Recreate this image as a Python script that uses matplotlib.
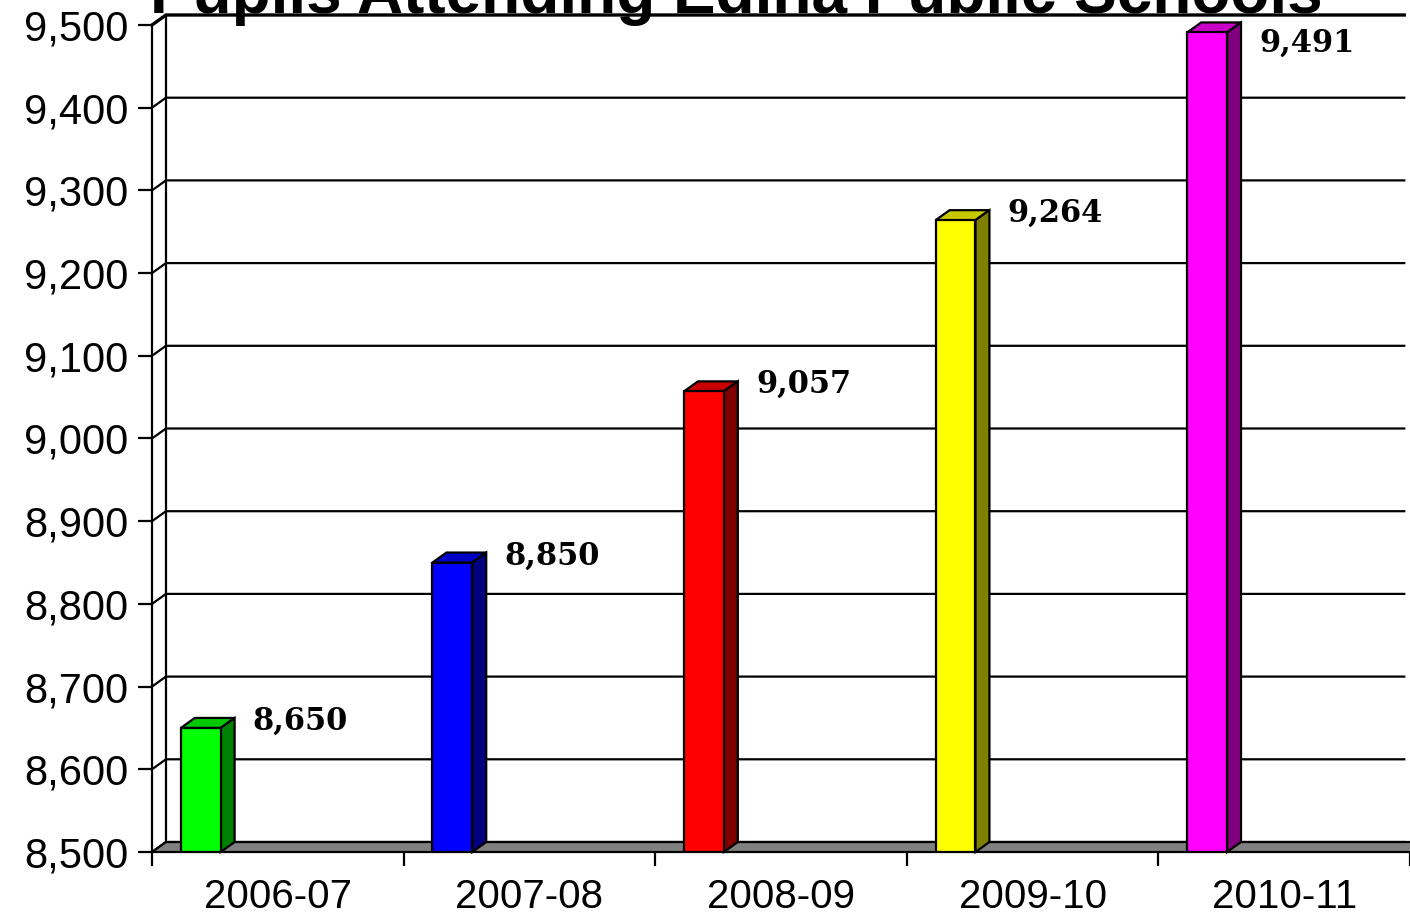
import matplotlib.pyplot as plt
from matplotlib.patches import Polygon, Rectangle

# data
years = ["2006-07", "2007-08", "2008-09", "2009-10", "2010-11"]
pupils = [8650, 8850, 9057, 9264, 9491]
front_colors = ["#00FF00", "#0000FF", "#FF0000", "#FFFF00", "#FF00FF"]
top_colors = ["#00C800", "#0000C8", "#C80000", "#C8C800", "#C800C8"]
side_colors = ["#008000", "#000080", "#800000", "#808000", "#800080"]
yticks = list(range(8500, 9501, 100))

W, H = 1410, 916
fig = plt.figure(figsize=(W / 100, H / 100), dpi=100)
fig.patch.set_facecolor("white")

# axes placed in pixels, runs off the right edge like the original
x0_px, y0_px, ytop_px = 152, 852, 25
cat_px = 252.75
ax = fig.add_axes([x0_px / W, (H - y0_px) / H, (W - x0_px) / W, (y0_px - ytop_px) / H])
xmax = -0.5 + (W - x0_px) / cat_px
ax.set_xlim(-0.5, xmax)
ax.set_ylim(8500, 9500)
ax.patch.set_visible(False)

# 3d depth offsets in data units
px_y = (y0_px - ytop_px) / 1000.0
dx = 14 / cat_px
dy = 10 / px_y

lw = 1.6
for s in ["top", "right", "bottom"]:
    ax.spines[s].set_visible(False)
ax.spines["left"].set_linewidth(lw)

# back wall gridlines with the little diagonals to the front axis
for v in yticks:
    ax.plot([-0.5, -0.5 + dx, xmax], [v, v + dy, v + dy], color="black",
            lw=lw if v < 9500 else 2.4, clip_on=False, zorder=1)
ax.plot([-0.5 + dx, -0.5 + dx], [8500 + dy, 9500 + dy], color="black", lw=lw,
        clip_on=False, zorder=1)

# floor
floor = Polygon([(-0.5, 8500), (xmax + 0.1, 8500), (xmax + 0.1, 8500 + dy),
                 (-0.5 + dx, 8500 + dy)], closed=True, facecolor="#808080",
                edgecolor="black", lw=lw, clip_on=False, zorder=2)
ax.add_patch(floor)

# bars
bw = 40 / cat_px
for i, v in enumerate(pupils):
    xl = i - 0.5 + 29 / cat_px
    xr = xl + bw
    ax.add_patch(Rectangle((xl, 8500), bw, v - 8500, facecolor=front_colors[i],
                           edgecolor="black", lw=lw, zorder=4))
    ax.add_patch(Polygon([(xl, v), (xr, v), (xr + dx, v + dy), (xl + dx, v + dy)],
                         closed=True, facecolor=top_colors[i], edgecolor="black",
                         lw=lw, zorder=3, clip_on=False))
    ax.add_patch(Polygon([(xr, 8500), (xr, v), (xr + dx, v + dy), (xr + dx, 8500 + dy)],
                         closed=True, facecolor=side_colors[i], edgecolor="black",
                         lw=lw, zorder=3, clip_on=False))
    ax.text(xr + 80 / cat_px, min(v + 8, 9478), f"{v:,}", ha="center", va="center",
            fontsize=22, fontweight="bold", family="DejaVu Serif", zorder=5)

# axes ticks
ax.set_yticks(yticks)
ax.set_yticklabels([f"{v:,}" for v in yticks])
ax.tick_params(axis="y", direction="out", length=10, width=lw, pad=7,
               labelsize=30)
ax.set_xticks([i - 0.5 for i in range(len(years) + 1)])
ax.set_xticklabels([])
ax.set_xticks(range(len(years)), minor=True)
ax.set_xticklabels(years, minor=True)
ax.tick_params(axis="x", which="major", direction="out", length=10, width=lw)
ax.tick_params(axis="x", which="minor", length=0, pad=19, labelsize=29)
for lab in ax.get_xticklabels(minor=True) + ax.get_yticklabels():
    lab.set_family("Liberation Sans")

# title, mostly cut off at the top as in the source image
fig.text(0.522, 1 - 13 / H, "Pupils Attending Edina Public Schools", ha="center",
         va="baseline", fontsize=46, fontweight="bold", family="Liberation Sans")

fig.savefig("out.png", dpi=100)
